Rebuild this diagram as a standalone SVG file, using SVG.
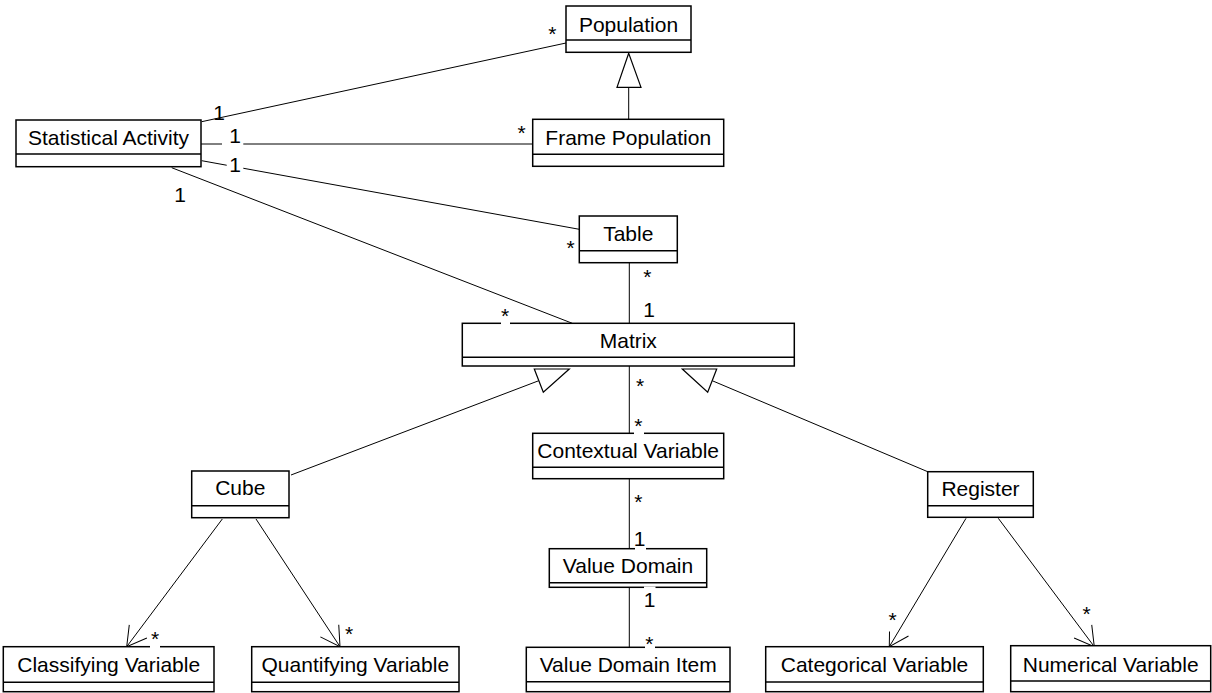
<svg xmlns="http://www.w3.org/2000/svg" width="1212" height="693" viewBox="0 0 1212 693">
<style>
.box{fill:#fff;stroke:#000;stroke-width:1.5}
.div{stroke:#000;stroke-width:1.5}
.t{font-family:"Liberation Sans",Arial,sans-serif;font-size:21px;fill:#000;text-anchor:middle}
.ln{stroke:#000;stroke-width:1;fill:none}
.tri{fill:#fff;stroke:#000;stroke-width:1.2}
.bg{fill:#fff}
</style>
<defs>
<marker id="open" markerUnits="userSpaceOnUse" markerWidth="30" markerHeight="30" refX="25" refY="15" orient="auto">
<path d="M6,4 L25,15 L6,26" fill="none" stroke="#000" stroke-width="1"/>
</marker>
</defs>
<rect width="1212" height="693" fill="#fff"/>
<g id="connectors">
<line class="ln" x1="201.7" y1="121.7" x2="566" y2="43"/>
<line class="ln" x1="201" y1="144" x2="532.7" y2="144"/>
<line class="ln" x1="201.7" y1="160.7" x2="579.3" y2="229.3"/>
<line class="ln" x1="171.7" y1="167.7" x2="572.3" y2="323.3"/>
<line class="ln" x1="629.3" y1="262.7" x2="629.3" y2="323.3"/>
<line class="ln" x1="629.3" y1="366" x2="629.3" y2="433.3"/>
<line class="ln" x1="629.3" y1="478.7" x2="629.3" y2="548.7"/>
<line class="ln" x1="629.3" y1="587.3" x2="629.3" y2="647.3"/>
<line class="ln" x1="628.7" y1="87.3" x2="628.7" y2="119.3"/>
<polygon class="tri" points="628.7,53.3 617,87.3 641,87.3"/>
<line class="ln" x1="291" y1="475" x2="538.8" y2="380.7"/>
<polygon class="tri" points="569.3,369 534.3,369 543.3,392.3"/>
<line class="ln" x1="927.7" y1="471.7" x2="712.2" y2="380.7"/>
<polygon class="tri" points="682.3,369 716.7,369 707.7,392.3"/>
<line class="ln" x1="222.3" y1="519" x2="126.7" y2="646.7" marker-end="url(#open)"/>
<line class="ln" x1="256" y1="519" x2="340" y2="646.7" marker-end="url(#open)"/>
<line class="ln" x1="966" y1="518.3" x2="889.3" y2="646.7" marker-end="url(#open)"/>
<line class="ln" x1="998.3" y1="518.3" x2="1094.3" y2="646.7" marker-end="url(#open)"/>
</g>
<g id="population"><rect class="box" x="566" y="6" width="125" height="46.3"/><line class="div" x1="566" y1="40" x2="691" y2="40"/><text class="t" x="628.5" y="31.5">Population</text></g>
<g id="frame-population"><rect class="box" x="532.7" y="119.3" width="191" height="47"/><line class="div" x1="532.7" y1="154.3" x2="723.7" y2="154.3"/><text class="t" x="628.2" y="145">Frame Population</text></g>
<g id="statistical-activity"><rect class="box" x="16" y="120" width="185" height="46.7"/><line class="div" x1="16" y1="154" x2="201" y2="154"/><text class="t" x="108.5" y="145">Statistical Activity</text></g>
<g id="table"><rect class="box" x="579.3" y="216" width="98" height="46.7"/><line class="div" x1="579.3" y1="250.7" x2="677.3" y2="250.7"/><text class="t" x="628.3" y="241">Table</text></g>
<g id="matrix"><rect class="box" x="462.3" y="323.3" width="332" height="42.7"/><line class="div" x1="462.3" y1="357.3" x2="794.3" y2="357.3"/><text class="t" x="628.3" y="347.8">Matrix</text></g>
<g id="contextual-variable"><rect class="box" x="532.7" y="433.3" width="191" height="45.4"/><line class="div" x1="532.7" y1="467.3" x2="723.7" y2="467.3"/><text class="t" x="628.2" y="457.5">Contextual Variable</text></g>
<g id="value-domain"><rect class="box" x="549.3" y="548.7" width="157.4" height="38.6"/><line class="div" x1="549.3" y1="582.7" x2="706.7" y2="582.7"/><text class="t" x="628" y="573.3">Value Domain</text></g>
<g id="value-domain-item"><rect class="box" x="526.3" y="647.3" width="203.7" height="44.4"/><line class="div" x1="526.3" y1="681.7" x2="730" y2="681.7"/><text class="t" x="628.2" y="671.7">Value Domain Item</text></g>
<g id="cube"><rect class="box" x="191.7" y="471" width="97.3" height="46.7"/><line class="div" x1="191.7" y1="505.7" x2="289" y2="505.7"/><text class="t" x="240.3" y="495.3">Cube</text></g>
<g id="classifying-variable"><rect class="box" x="3.3" y="646.7" width="210.7" height="45"/><line class="div" x1="3.3" y1="682.3" x2="214" y2="682.3"/><text class="t" x="108.7" y="671.7">Classifying Variable</text></g>
<g id="quantifying-variable"><rect class="box" x="251.7" y="646.7" width="207.3" height="45"/><line class="div" x1="251.7" y1="682.3" x2="459" y2="682.3"/><text class="t" x="355.3" y="671.7">Quantifying Variable</text></g>
<g id="register"><rect class="box" x="927.7" y="471.7" width="105.6" height="45.6"/><line class="div" x1="927.7" y1="505.7" x2="1033.3" y2="505.7"/><text class="t" x="980.5" y="495.8">Register</text></g>
<g id="categorical-variable"><rect class="box" x="765.7" y="646.7" width="217.6" height="45"/><line class="div" x1="765.7" y1="682" x2="983.3" y2="682"/><text class="t" x="874.5" y="671.7">Categorical Variable</text></g>
<g id="numerical-variable"><rect class="box" x="1010.7" y="645.7" width="200" height="46"/><line class="div" x1="1010.7" y1="681" x2="1210.7" y2="681"/><text class="t" x="1110.7" y="671.7">Numerical Variable</text></g>
<g id="labels">
<rect class="bg" x="547.3" y="22" width="10" height="21"/><text class="t" x="552.3" y="40.8">*</text>
<text class="t" x="521.7" y="139.8">*</text>
<text class="t" x="219" y="120">1</text>
<rect class="bg" x="222" y="124" width="21.3" height="23"/><text class="t" x="235" y="142.7">1</text>
<rect class="bg" x="226.7" y="153" width="16.6" height="23"/><text class="t" x="235" y="172">1</text>
<text class="t" x="180" y="201.7">1</text>
<text class="t" x="570.7" y="254.8">*</text>
<text class="t" x="647.3" y="283.8">*</text>
<text class="t" x="649" y="317.3">1</text>
<rect class="bg" x="501" y="303" width="9" height="24"/><text class="t" x="505" y="322.8">*</text>
<text class="t" x="640" y="392.8">*</text>
<rect class="bg" x="634" y="413" width="10" height="24"/><text class="t" x="638.3" y="432.8">*</text>
<text class="t" x="638.3" y="509.1">*</text>
<rect class="bg" x="635" y="528" width="11" height="22"/><text class="t" x="639.5" y="546">1</text>
<rect class="bg" x="644" y="586.5" width="11.5" height="24"/><text class="t" x="649.5" y="607.3">1</text>
<rect class="bg" x="645" y="631" width="10" height="24"/><text class="t" x="649.3" y="650.6">*</text>
<rect class="bg" x="150" y="627" width="10" height="23"/><text class="t" x="155" y="646.1">*</text>
<text class="t" x="349" y="640.5">*</text>
<rect class="bg" x="887.7" y="607" width="10" height="24.5"/><text class="t" x="892.7" y="626.6">*</text>
<text class="t" x="1086.7" y="620.8">*</text>
</g>
</svg>
